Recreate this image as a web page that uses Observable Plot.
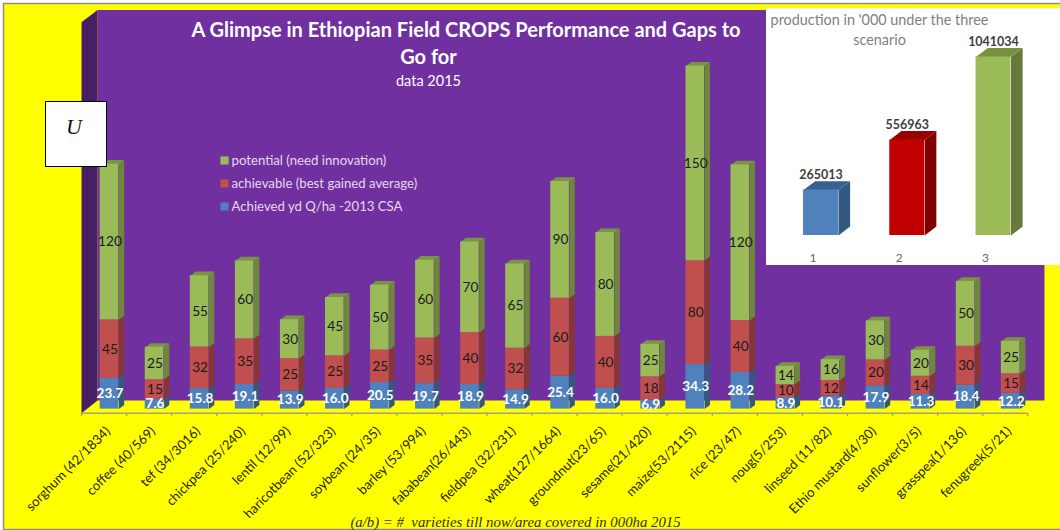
<!DOCTYPE html>
<html><head><meta charset="utf-8">
<script src="https://cdn.jsdelivr.net/npm/d3@7"></script>
<script src="https://cdn.jsdelivr.net/npm/@observablehq/plot@0.6"></script>
<style>
html,body{margin:0;padding:0;background:#fff;overflow:hidden}
#wrap{position:relative;width:1060px;height:530px}
#wrap svg{position:absolute;display:block;max-width:none;overflow:hidden}
#note{position:absolute;left:45px;top:101px;width:56px;height:64px;padding-right:4px;background:#fff;border:1px solid #000;
 font:italic 22px "Liberation Serif",serif;text-align:center;line-height:50px;color:#111}
</style></head><body><div id="wrap"></div>
<script>
const crops=["sorghum (42/1834)","coffee (40/569)","tef (34/3016)","chickpea (25/240)","lentil (12/99)","haricotbean (52/323)","soybean (24/35)","barley (53/994)","fababean(26/443)","fieldpea (32/231)","wheat(127/1664)","groundnut(23/65)","sesame(21/420)","maize(53/2115)","rice (23/47)","noug(5/253)","linseed (11/82)","Ethio mustard(4/30)","sunflower(3/5)","grasspea(1/136)","fenugreek(5/21)"];
const achieved=[23.7,7.6,15.8,19.1,13.9,16.0,20.5,19.7,18.9,14.9,25.4,16.0,6.9,34.3,28.2,8.9,10.1,17.9,11.3,18.4,12.2];
const achievable=[45,15,32,35,25,25,25,35,40,32,60,40,18,80,40,10,12,20,14,30,15];
const potential=[120,25,55,60,30,45,50,60,70,65,90,80,25,150,120,14,16,30,20,50,25];
const legendNames=["potential (need innovation)","achievable (best gained average)","Achieved yd Q/ha -2013 CSA"];
const scenarios=[1,2,3];
const production=[265013,556963,1041034];
const titleLines=["A Glimpse in Ethiopian Field CROPS Performance and Gaps to","Go for"];
const subtitle="data 2015";
const footer="(a/b) = #  varieties till now/area covered in 000ha 2015";
const insetTitle=["production in '000 under the three","scenario"];

const BLUE="#4f81bd",BLUE_D="#33597f",RED="#c0504d",RED_D="#883634",GREEN="#9bbb59",GREEN_D="#6f8739",TOPC="#7b9444";
const W=.413,DX=.12,DY=3.2;
const idx=crops.map((_,i)=>i);
const segs=(vals,base)=>idx.map(i=>({i,y1:base[i],y2:base[i]+vals[i],v:vals[i]}));
const zero=idx.map(()=>0);
const b1=achieved, b2=idx.map(i=>achieved[i]+achievable[i]);
const sA=segs(achieved,zero),sB=segs(achievable,b1),sC=segs(potential,b2);
const sideFace=s=>s.flatMap(d=>{const r=d.i+W/2;return [
 {z:d.i,x:r,y:d.y1},{z:d.i,x:r+DX,y:d.y1+DY},{z:d.i,x:r+DX,y:d.y2+DY},{z:d.i,x:r,y:d.y2}];});
const topFace=sC.flatMap(d=>{const l=d.i-W/2,r=d.i+W/2;return [
 {z:d.i,x:l,y:d.y2},{z:d.i,x:l+DX,y:d.y2+DY},{z:d.i,x:r+DX,y:d.y2+DY},{z:d.i,x:r,y:d.y2}];});
const poly=(rows,fill)=>Plot.line(rows,{x:"x",y:"y",z:"z",fill,stroke:"none",curve:"linear-closed"});
const front=(s,fill)=>Plot.rect(s,{x1:d=>d.i-W/2,x2:d=>d.i+W/2,y1:"y1",y2:"y2",fill});
const lab=(s,o)=>Plot.text(s,{x:d=>d.i+.01,y:d=>(d.y1+d.y2)/2,text:d=>o.fmt?d.v.toFixed(1):String(d.v),
  fill:o.fill,fontSize:o.fs||13.7,fontWeight:o.w||400,fontFamily:"Lato, sans-serif"});
const px=(s,x,y,o)=>Plot.text([s],{frameAnchor:"top-left",dx:x,dy:y,text:d=>d,textAnchor:"middle",lineAnchor:"middle",fontFamily:"Lato, sans-serif",...o});

const wallL=-.621,wallLB=-.266,wallR=20.75,frontR=20.37,floorF=-3.2,floorB=6.7,ceilB=307.4,ceilF=298;
const wall=[{z:0,x:wallLB,y:floorB},{z:0,x:wallLB,y:ceilB},{z:0,x:wallR,y:ceilB},{z:0,x:wallR,y:floorB}];
const leftWall=[{z:0,x:wallL,y:floorF},{z:0,x:wallL,y:ceilF},{z:0,x:wallLB,y:ceilB},{z:0,x:wallLB,y:floorB}];
const tickAt=d3.range(22).map(k=>k-.621);

const main=Plot.plot({width:1060,height:530,margin:0,
 x:{domain:[-.5,20.5],range:[86.47,1032.7],axis:null},
 y:{domain:[0,310],range:[408.6,408.6-1.298*310],axis:null},
 style:{background:"#fff"},
 marks:[
  Plot.frame({fill:"#ffff00",stroke:"#8f8f8f",strokeWidth:1.5,insetTop:3,insetLeft:3,insetRight:-5,insetBottom:1}),
  poly(wall,"#7030a0"),
  poly(leftWall,"#461f65"),
  Plot.ruleY([floorF],{x1:wallL,x2:frontR,stroke:"#a3a37a",strokeWidth:1.3}),
  Plot.ruleX(tickAt,{y1:floorF,y2:floorF-2.6,stroke:"#a3a37a",strokeWidth:1.3}),
  poly(sideFace(sA),BLUE_D),poly(sideFace(sB),RED_D),poly(sideFace(sC),GREEN_D),poly(topFace,TOPC),
  front(sA,BLUE),front(sB,RED),front(sC,GREEN),
  lab(sC,{fill:"#1a1a1a"}),lab(sB,{fill:"#1a1a1a"}),
  lab(sA,{fill:"#fff",fmt:true,w:700,fs:13.5}),
  Plot.text(idx,{x:i=>i,y:0,dy:20,dx:-1.5,text:i=>crops[i],rotate:-45,textAnchor:"end",fontSize:13.2,fill:"#262600",fontFamily:"Lato, sans-serif"}),
  px(titleLines[0],465.5,30,{fontSize:20,fontWeight:700,fill:"#fff"}),
  px(titleLines[1],428,57,{fontSize:20,fontWeight:700,fill:"#fff"}),
  px(subtitle,428,81,{fontSize:14.5,fill:"#fff"}),
  ...legendNames.map((n,k)=>Plot.dot([n],{frameAnchor:"top-left",dx:224,dy:160+23*k,symbol:"square",r:4.6,fill:[GREEN,RED,BLUE][k],stroke:"none"})),
  ...legendNames.map((n,k)=>px(n,231,160+23*k,{fontSize:13.2,textAnchor:"start",fill:"#e6d8ee"})),
  px(footer,515,522,{fontSize:14.8,fontStyle:"italic",fontFamily:"Liberation Serif, serif",fill:"#333300"})
 ]});
main.style.left="0";main.style.top="0";
const wrap=document.getElementById("wrap");
wrap.appendChild(main);
const note=document.createElement("div");note.id="note";note.textContent="U";wrap.appendChild(note);

const iw=.405,idx3=.135;
const ib=scenarios.map((s,i)=>({s,v:production[i]}));
const dyV=52000;
const iCols=[[BLUE,"#33597f","#376092"],["#c00000","#7f0000","#990000"],[GREEN,"#67783a","#76923c"]];
const sideOf=d=>[{z:d.s,x:d.s+iw/2,y:0},{z:d.s,x:d.s+iw/2+idx3,y:dyV},{z:d.s,x:d.s+iw/2+idx3,y:d.v+dyV},{z:d.s,x:d.s+iw/2,y:d.v}];
const topOf=d=>[{z:d.s,x:d.s-iw/2,y:d.v},{z:d.s,x:d.s-iw/2+idx3,y:d.v+dyV},{z:d.s,x:d.s+iw/2+idx3,y:d.v+dyV},{z:d.s,x:d.s+iw/2,y:d.v}];
const one=(k,f,c)=>Plot.line(f(ib[k]),{x:"x",y:"y",z:"z",fill:c,stroke:"none",curve:"linear-closed"});
const inset=Plot.plot({width:294,height:257,margin:0,
 x:{domain:[1,3],range:[54.5,227],axis:null},
 y:{domain:[0,1300000],range:[227,227-1300000*1.715e-4],axis:null},
 style:{background:"#fff"},
 marks:[
  ...[0,1,2].flatMap(k=>[one(k,sideOf,iCols[k][1]),one(k,topOf,iCols[k][2]),
    Plot.rect([ib[k]],{x1:d=>d.s-iw/2,x2:d=>d.s+iw/2,y1:0,y2:"v",fill:iCols[k][0]})]),
  Plot.text(ib,{x:"s",y:"v",dy:-15,text:d=>String(d.v),fontSize:12.5,fontWeight:700,fill:"#404040",fontFamily:"Lato, sans-serif"}),
  Plot.text(ib,{x:"s",y:0,dy:23,dx:-8,text:d=>String(d.s),fontSize:12,fill:"#666",fontFamily:"Lato, sans-serif"}),
  Plot.text([insetTitle[0]],{frameAnchor:"top-left",dx:113,dy:12,text:d=>d,textAnchor:"middle",lineAnchor:"middle",fontSize:14.4,fill:"#7f7f7f",fontFamily:"Lato, sans-serif"}),
  Plot.text([insetTitle[1]],{frameAnchor:"top-left",dx:113,dy:32,text:d=>d,textAnchor:"middle",lineAnchor:"middle",fontSize:14.4,fill:"#7f7f7f",fontFamily:"Lato, sans-serif"})
 ]});
inset.style.left="766px";inset.style.top="8px";
wrap.appendChild(inset);
</script></body></html>
